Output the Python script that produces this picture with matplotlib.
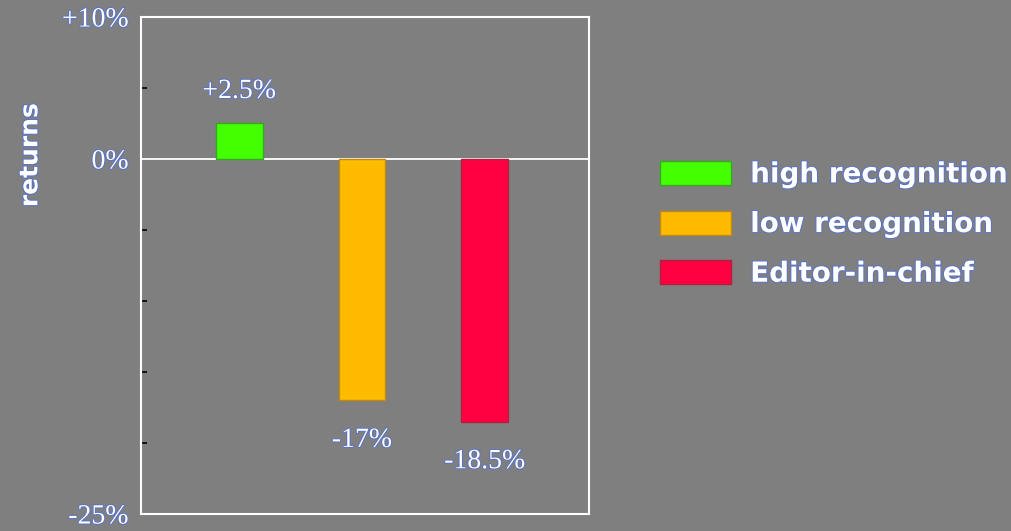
import matplotlib
matplotlib.use('Agg')
import matplotlib.pyplot as plt
import matplotlib.patheffects as pe

# data
categories = ['high recognition', 'low recognition', 'Editor-in-chief']
returns = [2.5, -17.0, -18.5]
value_labels = ['+2.5%', '-17%', '-18.5%']
bar_colors = ['#44ff00', '#ffbb00', '#ff0040']
edge_colors = ['#33aa22', '#c08a10', '#b02040']
ytick_vals = [10, 0, -25]
ytick_labels = ['+10%', '0%', '-25%']
minor_vals = [5, -5, -10, -15, -20]

BG = '#7f7f7f'
glow = [pe.withStroke(linewidth=1.4, foreground='#5a74c8')]

fig = plt.figure(figsize=(10.11, 5.31), dpi=100, facecolor=BG)
ax = fig.add_axes([0.1395, 0.032, 0.4431, 0.936], facecolor=BG)

x = list(range(len(categories)))
bars = ax.bar(x, returns, width=0.38, color=bar_colors,
              edgecolor=edge_colors, linewidth=1.0, zorder=3)

ax.axhline(0, color='white', lw=1.3, zorder=2)

ax.set_xlim(-0.8, 2.85)
ax.set_ylim(-25, 10)
ax.set_xticks([])
ax.set_yticks(ytick_vals)
ax.set_yticklabels(ytick_labels, family='Liberation Serif', fontsize=20,
                   color='white', path_effects=glow)
ax.tick_params(axis='y', which='major', length=0, pad=9)
ax.set_yticks(minor_vals, minor=True)
ax.tick_params(axis='y', which='minor', direction='in', length=4, width=1.2)
for i, t in enumerate(ax.yaxis.get_minor_ticks()):
    t.tick1line.set_color('#4a6ad0' if i in (1, 3) else '#8c8c8c')

for s in ax.spines.values():
    s.set_color('white')
    s.set_linewidth(1.5)

# value labels
for b, v, lab in zip(bars, returns, value_labels):
    cx = b.get_x() + b.get_width() / 2
    off = 32 if v > 0 else -40
    ax.annotate(lab, (cx, v), xytext=(0, off), textcoords='offset pixels',
                ha='center', va='center', family='Liberation Serif',
                fontsize=20, color='white', path_effects=glow)

fig.text(0.03, 0.708, 'returns', rotation=90, ha='center', va='center',
         family='DejaVu Sans', fontweight='bold', fontsize=18,
         color='white', path_effects=glow)

leg = fig.legend(bars, categories, loc='upper left',
                 bbox_to_anchor=(0.628, 0.745), frameon=False,
                 prop={'family': 'DejaVu Sans', 'weight': 'bold', 'size': 20},
                 handlelength=2.55, handleheight=0.95, handletextpad=0.7,
                 labelspacing=0.78)
for t in leg.get_texts():
    t.set_color('white')
    t.set_path_effects(glow)

fig.savefig('out.png', dpi=100, facecolor=BG)
